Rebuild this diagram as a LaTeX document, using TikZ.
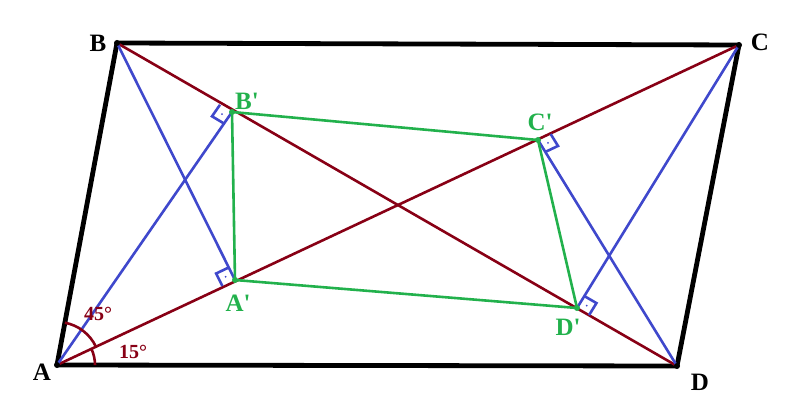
\documentclass[tikz,border=0pt]{standalone}
\usepackage{fontspec}
\setmainfont{Liberation Serif}
\usetikzlibrary{angles, calc}

\definecolor{darkred}{RGB}{136,0,21}
\definecolor{pblue}{RGB}{63,72,204}
\definecolor{pgreen}{RGB}{34,177,76}

\begin{document}
\begin{tikzpicture}
	[x=1pt,y=-1pt,
	side/.style={line width=4.8pt,line join=round},
	diag/.style={darkred,line width=2.6pt},
	perp/.style={pblue,line width=2.6pt},
	inner/.style={pgreen,line width=2.6pt},
	vlbl/.style={inner sep=0pt,font=\fontsize{25}{25}\selectfont\bfseries},
	plbl/.style={vlbl,text=pgreen},
	albl/.style={inner sep=0pt,font=\fontsize{20}{20}\selectfont\bfseries,text=darkred}]

	\useasboundingbox (0,0) rectangle (794,419);

	% parallelogram
	\coordinate (A) at (57,365);
	\coordinate (B) at (117,43);
	\coordinate (C) at (739,45);
	\coordinate (D) at (677,366);
	% feet of the perpendiculars
	\coordinate (Ap) at (235,280);
	\coordinate (Bp) at (232,112);
	\coordinate (Cp) at (538,140);
	\coordinate (Dp) at (577,308);

	\draw[side] (A) -- (B) -- (C) -- (D) -- cycle;
	\draw[diag] (A) -- (C);
	\draw[diag] (B) -- (D);

	\draw[perp] (B) -- (Ap);
	\draw[perp] (A) -- (Bp);
	\draw[perp] (D) -- (Cp);
	\draw[perp] (C) -- (Dp);

	\draw[inner] (Ap) -- (Bp) -- (Cp) -- (Dp) -- cycle;

	% right angles
	\foreach \p/\u/\v in {Ap/A/B, Bp/B/A, Cp/C/D, Dp/D/C}{
		\path ($(\p)!14pt!(\u)$) coordinate (m1)
			($(\p)!14pt!(\v)$) coordinate (m2);
		\coordinate (m3) at ($(m1)+(m2)-(\p)$);
		\draw[perp] (m1) -- (m3) -- (m2);
		\fill[pblue] ($(\p)!0.5!(m3)$) circle (1pt);
	}

	% angles at A
	\pic[draw=darkred,line width=2.6pt,angle radius=38pt] {angle=D--A--C};
	\pic[draw=darkred,line width=2.6pt,angle radius=43pt] {angle=C--A--B};

	\foreach \v in {A,B,C,D}
		\fill (\v) circle (3pt);
	\foreach \v in {Ap,Bp,Cp,Dp}
		\fill[pgreen] (\v) circle (3pt);

	% labels
	\node[vlbl] (lA) at (42,372) {A};
	\node[vlbl] (lB) at (98,43) {B};
	\node[vlbl] (lC) at (760,42) {C};
	\node[vlbl] (lD) at (700,382) {D};
	\node[plbl] (lAp) at (238,303) {A\textquotesingle};
	\node[plbl] (lBp) at (247,101) {B\textquotesingle};
	\node[plbl] (lCp) at (540,122) {C\textquotesingle};
	\node[plbl] (lDp) at (568,327) {D\textquotesingle};
	\node[albl] (a45) at (98,314) {45°};
	\node[albl] (a15) at (133,352) {15°};
\end{tikzpicture}
\end{document}
